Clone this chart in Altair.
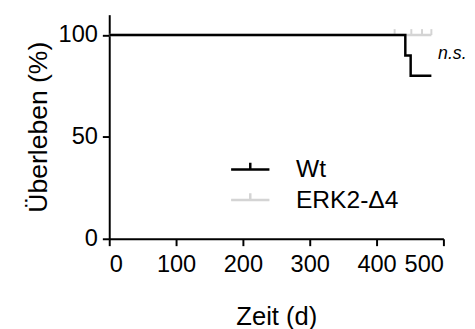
import altair as alt
import pandas as pd

# Kaplan-Meier step data
wt_time = [0, 443, 443, 451, 451, 482]
wt_surv = [100, 100, 90, 90, 80, 80]
erk_time = [0, 482]
erk_surv = [100, 100]
erk_censor_time = [427, 452, 468, 482]
erk_censor_surv = [100, 100, 100, 100]
groups = ["Wt", "ERK2-Δ4"]
colors = ["#000000", "#d4d4d4"]
x_ticks = [0, 100, 200, 300, 400, 500]
y_ticks = [0, 50, 100]
annot_x = [492]
annot_y = [88]
annot_text = ["n.s."]

lines = pd.concat([
    pd.DataFrame({"t": erk_time, "s": erk_surv, "g": groups[1], "o": range(len(erk_time))}),
    pd.DataFrame({"t": wt_time, "s": wt_surv, "g": groups[0], "o": range(len(wt_time))}),
])
cens = pd.DataFrame({"t": erk_censor_time, "s": erk_censor_surv, "g": groups[1]})
ann = pd.DataFrame({"t": annot_x, "s": annot_y, "txt": annot_text})

FONT = "Liberation Sans"
xs = alt.Scale(domain=[0, 500], nice=False, zero=True)
ys = alt.Scale(domain=[0, 110], nice=False)
color = alt.Color(
    "g:N",
    scale=alt.Scale(domain=groups, range=colors),
    legend=alt.Legend(
        title=None, orient="none", legendX=131, legendY=145, padding=0,
        symbolType="M-2,0L2,0M0,0L0,-0.7", symbolSize=380, symbolStrokeWidth=2.5,
        labelFont=FONT, labelFontSize=25, labelColor="#000", labelOffset=34,
        rowPadding=5,
    ),
)

line = alt.Chart(lines).mark_line(strokeWidth=2.5, interpolate="linear").encode(
    x=alt.X("t:Q", scale=xs, title="Zeit (d)",
            axis=alt.Axis(values=x_ticks, grid=False, format="d", labelPadding=7, titlePadding=28)),
    y=alt.Y("s:Q", scale=ys, title="Überleben (%)",
            axis=alt.Axis(values=y_ticks, grid=False, format="d", labelPadding=5, titlePadding=6,
                          titleFontSize=27)),
    color=color,
    order="o:Q",
    detail="g:N",
)

cen = alt.Chart(cens).mark_point(
    shape="M0,0L0,-1", filled=False, size=144, strokeWidth=2, opacity=1, color=colors[1]
).encode(
    x=alt.X("t:Q", scale=xs),
    y=alt.Y("s:Q", scale=ys),
)

txt = alt.Chart(ann).mark_text(
    align="left", baseline="alphabetic", font=FONT, fontSize=18, fontStyle="italic", color="#000"
).encode(x=alt.X("t:Q", scale=xs), y=alt.Y("s:Q", scale=ys), text="txt:N")

chart = alt.layer(cen, line, txt).properties(
    width=340, height=228,
    autosize=alt.AutoSizeParams(type="none"),
    padding={"left": 103, "top": 4, "right": 24, "bottom": 89},
).configure_view(stroke=None).configure_axis(
    domainColor="#000", domainWidth=2, tickColor="#000", tickWidth=2, tickSize=7,
    labelFont=FONT, labelFontSize=24, labelColor="#000",
    titleFont=FONT, titleFontSize=26, titleFontWeight="normal", titleColor="#000",
)

chart.save("out.html", embed_options={"renderer": "svg", "actions": False})
